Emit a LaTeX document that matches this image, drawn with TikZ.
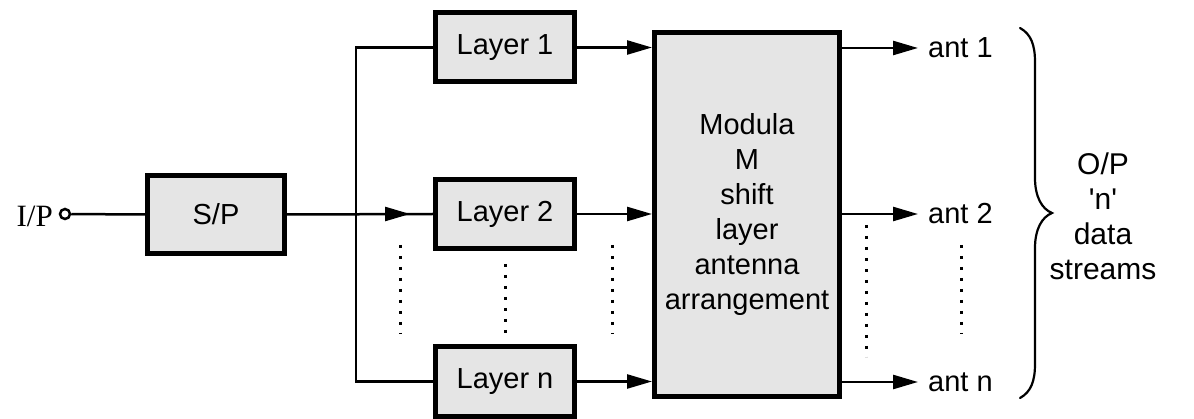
\documentclass[tikz,border=0pt]{standalone}
\usepackage{fontspec}
\newfontfamily\sansf{Liberation Sans}
\newfontfamily\seriff{Liberation Serif}
\usetikzlibrary{arrows.meta}
\begin{document}
\begin{tikzpicture}[x=1pt,y=-1pt,
  box/.style={draw=black,line width=5pt,fill=black!10,inner sep=0pt,font=\sansf\fontsize{29}{35}\selectfont},
  wire/.style={line width=2.5pt},
  arr/.style={wire,-{Triangle[length=25pt,width=14pt]}},
  dots/.style={line width=3pt,dash pattern=on 3pt off 8pt},
  lbl/.style={font=\sansf\fontsize{29}{35}\selectfont,inner sep=0pt}]
\useasboundingbox (0,0) rectangle (1194,419);

% input terminal and serial-to-parallel converter
\node[font=\seriff\fontsize{31}{36}\selectfont,anchor=east,inner sep=0pt] (iplbl) at (53,216) {I/P};
\node[circle,draw,line width=2.5pt,minimum size=10pt,inner sep=0pt] (ip) at (65,214) {};
\node[box,minimum width=137pt,minimum height=78pt] (sp) at (216,214.5) {S/P};

% layer blocks
\node[box,minimum width=139pt,minimum height=69pt] (l1) at (505,47.5) {Layer 1};
\node[box,minimum width=139pt,minimum height=69pt] (l2) at (505,214) {Layer 2};
\node[box,minimum width=139pt,minimum height=69pt] (ln) at (505,381.5) {Layer n};

% modulation / antenna mapping block
\node[box,minimum width=185pt,minimum height=364pt,align=center] (mod) at (747,214.5)
  {Modula\\M\\shift\\layer\\antenna\\arrangement};

% antenna outputs
\node[lbl,anchor=west] (a1) at (928,48) {ant 1};
\node[lbl,anchor=west] (a2) at (928,214) {ant 2};
\node[lbl,anchor=west] (an) at (928,382) {ant n};
\node[lbl,font=\sansf\fontsize{30}{35}\selectfont,align=center] (op) at (1103,216) {O/P\\'n'\\data\\streams};

% distribution bus
\coordinate (bus1) at (356,47.5);
\coordinate (bus2) at (356,214);
\coordinate (busn) at (356,381.5);
\coordinate (mid) at (410,214);

\draw[wire] (ip) -- (sp.west);
\draw[wire] (sp.east) -- (l2.west);
\draw[arr] (bus2) -- (mid);
\draw[wire] (l1.west) -- (bus1) -- (busn) -- (ln.west);

\draw[arr] (l1.east) -- (mod.west |- l1.east);
\draw[arr] (l2.east) -- (mod.west |- l2.east);
\draw[arr] (ln.east) -- (mod.west |- ln.east);

\draw[arr] (mod.east |- a1.west) -- ([xshift=-10pt]a1.west);
\draw[arr] (mod.east |- a2.west) -- ([xshift=-10pt]a2.west);
\draw[arr] (mod.east |- an.west) -- ([xshift=-10pt]an.west);

% continuation dots
\draw[dots] (400,245) -- (400,334);
\draw[dots] (505,264) -- (505,334);
\draw[dots] (612,245) -- (612,334);
\draw[dots] (866,225) -- (866,357);
\draw[dots] (961,245) -- (961,334);

% grouping brace
\draw[line width=2.2pt,line cap=round] (1020,28) .. controls (1031,34) and (1035,45) .. (1035,62)
  -- (1035,178) .. controls (1035,197) and (1042,209) .. (1052,213)
  .. controls (1042,217) and (1035,229) .. (1035,248)
  -- (1035,364) .. controls (1035,381) and (1031,392) .. (1020,398);
\end{tikzpicture}
\end{document}
